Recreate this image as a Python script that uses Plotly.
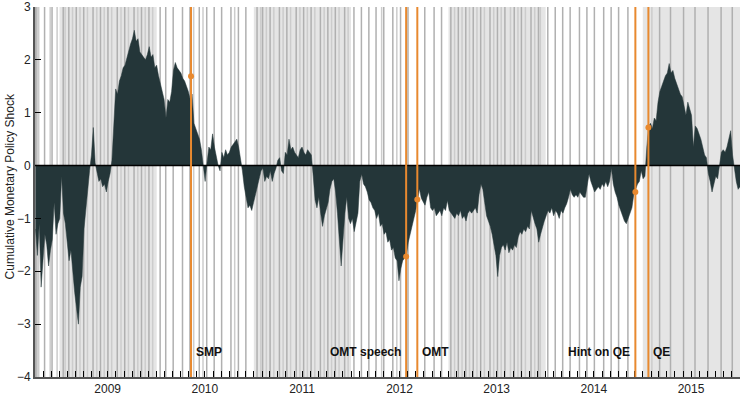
import pandas as pd
import plotly.graph_objects as go

# Weekly cumulative monetary policy shock (Fridays from 2008-10-03)
first_week = "2008-10-03"
shock = [
    -1.2, -1.7, -1.1, -2.3, -1.8, -1.3, -1.5, -1.9, -1.6, -1.4, -0.7, -1.3, -1.1,
    -1.0, -0.2, -0.9, -1.1, -1.4, -1.8, -1.6, -2.1, -2.4, -2.7, -3.0, -2.3, -2.1,
    -1.2, -0.8, -0.5, -0.1, 0.2, 0.72, 0.05, -0.15, -0.3, -0.25, -0.4, -0.35, -0.5,
    -0.3, -0.15, 0.1, 0.9, 1.45, 1.35, 1.6, 1.7, 1.85, 1.9, 2.05, 2.2, 2.3,
    2.4, 2.56, 2.35, 2.4, 2.15, 2.1, 2.05, 2.0, 2.1, 2.25, 2.05, 2.1, 1.85,
    1.9, 1.7, 1.55, 1.45, 1.25, 0.9, 1.25, 1.2, 1.4, 1.8, 1.95, 1.85, 1.8,
    1.75, 1.65, 1.6, 1.5, 1.4, 1.25, 1.35, 0.8, 0.7, 0.6, 0.5, 0.3, 0.05,
    -0.3, 0.05, 0.35, 0.3, 0.6, 0.35, 0.15, 0.0, -0.1, 0.25, 0.15, 0.3, 0.2,
    0.25, 0.35, 0.4, 0.45, 0.5, 0.35, 0.15, -0.1, -0.4, -0.6, -0.8, -0.75, -0.85,
    -0.7, -0.55, -0.45, -0.3, -0.1, -0.05, -0.3, -0.2, -0.25, -0.1, -0.3, -0.15, -0.05,
    0.1, 0.15, -0.1, -0.15, 0.25, 0.2, 0.5, 0.3, 0.35, 0.25, 0.2, 0.15, 0.3,
    0.35, 0.25, 0.2, 0.3, 0.25, 0.2, -0.2, -0.65, -0.8, -0.6, -0.9, -1.15, -0.95,
    -0.8, -0.7, -0.45, -0.3, -0.25, -0.5, -0.9, -1.5, -1.9, -1.4, -0.9, -0.6, -1.0,
    -1.1, -1.0, -1.25, -1.1, -0.9, -0.3, -0.16, -0.35, -0.4, -0.5, -0.65, -0.7, -0.8,
    -0.85, -1.0, -0.9, -1.15, -1.1, -1.3, -1.25, -1.45, -1.4, -1.6, -1.55, -1.75, -1.8,
    -2.18, -1.95, -1.8, -1.75, -1.7, -1.45, -1.3, -1.2, -1.0, -0.85, -0.65, -0.44, -0.62,
    -0.68, -0.75, -0.6, -0.5, -0.8, -0.85, -0.8, -0.95, -0.9, -0.85, -0.95, -0.8, -0.85,
    -0.66, -0.85, -0.9, -0.95, -1.0, -0.9, -0.95, -0.85, -1.0, -0.95, -1.05, -0.9, -0.85,
    -0.9, -0.85, -0.8, -0.9, -0.55, -0.35, -0.45, -0.7, -0.95, -1.05, -1.15, -1.3, -1.5,
    -1.7, -2.1, -1.7, -1.55, -1.5, -1.6, -1.45, -1.65, -1.55, -1.6, -1.5, -1.55, -1.35,
    -1.25, -1.3, -1.2, -1.25, -1.15, -1.2, -0.85, -1.0, -1.1, -1.2, -1.45, -1.3, -1.15,
    -1.05, -0.95, -0.85, -0.9, -0.8, -0.95, -0.85, -0.9, -1.0, -0.85, -0.9, -0.8, -0.72,
    -0.6, -0.45, -0.55, -0.6, -0.55, -0.6, -0.5, -0.55, -0.6, -0.6, -0.4, -0.16, -0.3,
    -0.42, -0.5, -0.45, -0.4, -0.45, -0.35, -0.4, -0.3, -0.4, -0.3, -0.05, -0.35, -0.5,
    -0.6, -0.75, -0.85, -0.95, -1.05, -1.1, -1.0, -0.9, -0.8, -0.55, -0.45, -0.35, -0.3,
    -0.1, -0.25, -0.2, 0.35, 0.75, 0.8, 0.7, 0.9, 0.85, 1.2, 1.4, 1.5, 1.6,
    1.7, 1.75, 1.93, 1.75, 1.8, 1.65, 1.55, 1.45, 1.35, 1.3, 1.15, 0.95, 1.2,
    1.05, 0.95, 0.35, 0.75, 0.7, 0.6, 0.5, 0.35, 0.2, 0.15, -0.15, -0.3, -0.5,
    -0.35, -0.2, -0.25, 0.0, 0.25, 0.3, 0.25, 0.35, 0.5, 0.66, 0.2, -0.1, -0.3,
    -0.45, -0.4,
]
weeks = pd.date_range(first_week, periods=len(shock), freq="7D")

# ECB Governing Council monetary policy meetings
ecb_meetings = [
    "2008-10-02", "2008-10-08", "2008-11-06", "2008-12-04",
    "2009-01-15", "2009-02-05", "2009-03-05", "2009-04-02", "2009-05-07", "2009-06-04",
    "2009-07-02", "2009-08-06", "2009-09-03", "2009-10-08", "2009-11-05", "2009-12-03",
    "2010-01-14", "2010-02-04", "2010-03-04", "2010-04-08", "2010-05-06", "2010-06-10",
    "2010-07-08", "2010-08-05", "2010-09-02", "2010-10-07", "2010-11-04", "2010-12-02",
    "2011-01-13", "2011-02-03", "2011-03-03", "2011-04-07", "2011-05-05", "2011-06-09",
    "2011-07-07", "2011-08-04", "2011-09-08", "2011-10-06", "2011-11-03", "2011-12-08",
    "2012-01-12", "2012-02-09", "2012-03-08", "2012-04-04", "2012-05-03", "2012-06-06",
    "2012-07-05", "2012-08-02", "2012-10-04", "2012-11-08", "2012-12-06",
    "2013-01-10", "2013-02-07", "2013-03-07", "2013-04-04", "2013-05-02", "2013-06-06",
    "2013-07-04", "2013-08-01", "2013-09-05", "2013-10-02", "2013-11-07", "2013-12-05",
    "2014-01-09", "2014-02-06", "2014-03-06", "2014-04-03", "2014-05-08", "2014-06-05",
    "2014-07-03", "2014-08-07", "2014-09-04", "2014-10-02", "2014-11-06",
    "2015-03-05", "2015-04-15", "2015-06-03", "2015-07-16", "2015-09-03",
    "2015-10-22", "2015-12-03",
]

# Other Governing Council dates and policy communications
other_dates = [
    "2008-10-15", "2008-11-27", "2008-12-23",
    "2009-01-22", "2009-02-19", "2009-03-19", "2009-04-16", "2009-05-21", "2009-06-18",
    "2009-07-16", "2009-08-20", "2009-09-17", "2009-10-22", "2009-11-19", "2009-12-17",
    "2010-05-20", "2010-06-24", "2010-10-21",
    "2011-01-27", "2011-02-17", "2011-03-17", "2011-04-21", "2011-05-19", "2011-06-23",
    "2011-07-21", "2011-08-18", "2011-09-22", "2011-10-20", "2011-11-17", "2011-12-21",
    "2012-04-25", "2012-06-21",
    "2013-01-24", "2013-02-21", "2013-03-21", "2013-04-18", "2013-05-16", "2013-06-20",
    "2013-07-18", "2013-08-22", "2013-09-19", "2013-10-17", "2013-11-21", "2013-12-12",
    "2015-02-04",
]

# Policy announcements highlighted in orange
events = ["SMP", "OMT speech", "OMT", "Hint on QE", "QE"]
event_dates = ["2010-05-10", "2012-07-26", "2012-09-06", "2014-12-04", "2015-01-22"]
event_values = [1.69, -1.72, -0.64, -0.5, 0.72]
label_sides = ["right", "left", "right", "left", "right"]

shaded_years = [2009, 2011, 2013, 2015]
year_labels = [2009, 2010, 2011, 2012, 2013, 2014, 2015]

ORANGE = "#e8892f"
FILL = "#243639"
BAND = "#e5e5e5"
MEETING = "#b0b0b0"
OTHER = "#cccccc"

fig = go.Figure()

fig.add_trace(go.Scatter(
    x=weeks, y=shock, mode="lines", fill="tozeroy",
    line=dict(color=FILL, width=0.5), fillcolor=FILL, hoverinfo="skip",
))
fig.add_trace(go.Scatter(
    x=event_dates, y=event_values, mode="markers",
    marker=dict(color=ORANGE, size=6), hoverinfo="skip",
))

shapes = []
for yr in shaded_years:
    shapes.append(dict(type="rect", xref="x", yref="paper", layer="below",
                       x0=f"{yr}-01-01", x1=f"{yr + 1}-01-01", y0=0, y1=1,
                       fillcolor=BAND, line=dict(width=0)))
for d in other_dates:
    shapes.append(dict(type="line", xref="x", yref="paper", layer="below",
                       x0=d, x1=d, y0=0, y1=1,
                       line=dict(color=OTHER, width=1.5)))
for d in ecb_meetings:
    shapes.append(dict(type="line", xref="x", yref="paper", layer="below",
                       x0=d, x1=d, y0=0, y1=1,
                       line=dict(color=MEETING, width=1.5)))
shapes.append(dict(type="line", xref="paper", yref="y", layer="above",
                   x0=0, x1=1, y0=0, y1=0, line=dict(color="black", width=1.5)))
for d in event_dates:
    shapes.append(dict(type="line", xref="x", yref="paper", layer="above",
                       x0=d, x1=d, y0=0, y1=1, line=dict(color=ORANGE, width=2)))

annotations = []
for name, d, side in zip(events, event_dates, label_sides):
    annotations.append(dict(
        x=d, y=-3.52, xref="x", yref="y", text=f"<b>{name}</b>", showarrow=False,
        xanchor="left" if side == "right" else "right",
        xshift=3 if side == "right" else -3,
        font=dict(size=12, color="#111"),
    ))
annotations.append(dict(
    x=-25 / 705, y=0.515, xref="paper", yref="paper", xanchor="center", yanchor="middle",
    text="Cumulative Monetary Policy Shock", textangle=-90, showarrow=False,
    font=dict(size=12, color="#222"),
))

fig.update_layout(
    width=740, height=410,
    margin=dict(l=35, r=0, t=7, b=33),
    paper_bgcolor="white", plot_bgcolor="white",
    showlegend=False,
    font=dict(family="Liberation Sans, Arial, sans-serif", size=12, color="#222"),
    shapes=shapes, annotations=annotations,
)
fig.update_xaxes(
    type="date", range=["2008-10-01", "2016-01-01"],
    tickvals=[f"{y}-07-01" for y in year_labels], ticktext=[str(y) for y in year_labels],
    ticks="inside", ticklen=6, tickcolor="black", tickwidth=1,
    minor=dict(tickmode="linear", tick0="2008-11-01", dtick="M1",
               ticks="inside", ticklen=6, tickcolor="black", tickwidth=1, showgrid=False),
    showgrid=False, zeroline=False, showline=True, linecolor="#555", linewidth=2,
)
fig.update_yaxes(
    range=[-4, 3], tickvals=list(range(-4, 4)),
    ticks="inside", ticklen=6, tickcolor="black", tickwidth=1,
    showgrid=False, zeroline=False, showline=True, linecolor="#555", linewidth=2,
)

fig.write_html("out.html")
